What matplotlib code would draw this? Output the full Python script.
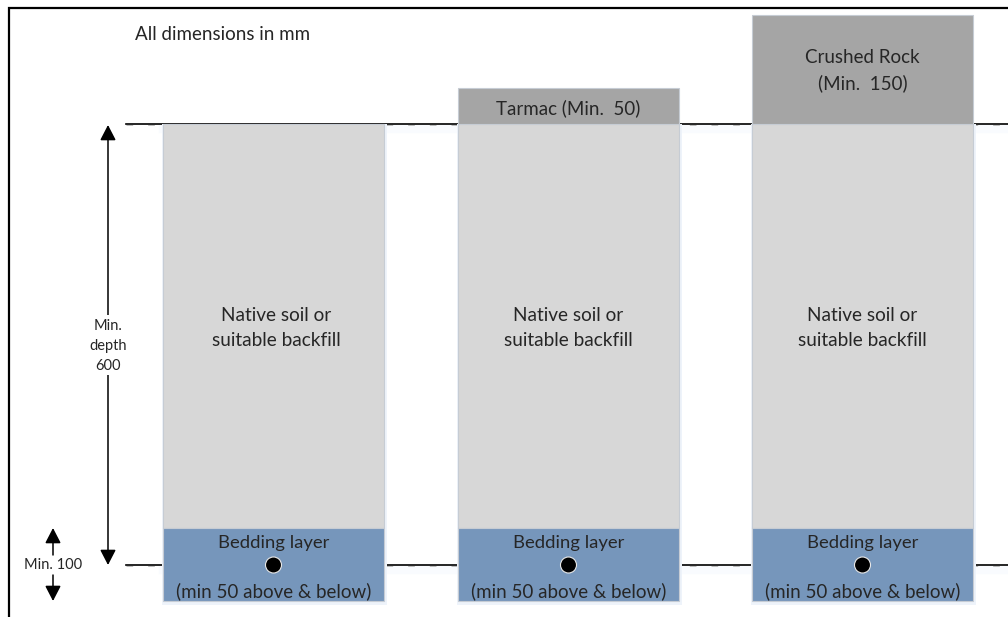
# trench cross sections, drawn in picture coordinates
import matplotlib
matplotlib.use('Agg')
import matplotlib.pyplot as plt
from matplotlib.patches import Rectangle, Circle

plt.rcParams['font.family'] = ['Lato', 'DejaVu Sans']

col_left = [163, 458, 752]
col_width = 221
soil_top = 124
bedding_top = 528
bedding_bottom = 601
surface_top = [None, 88, 15]
surface_labels = [None, 'Tarmac (Min.  50)', 'Crushed Rock\n(Min.  150)']
surface_label_y = [None, 108, 71]
soil_label = 'Native soil or\nsuitable backfill'
soil_label_dx = [3, 0, 0]
bedding_top_label = 'Bedding layer'
bedding_bottom_label = '(min 50 above & below)'
pipe_y = 565
pipe_r = 8

soil_col = '#d7d7d7'
rock_col = '#a5a5a5'
bed_col = '#7696bb'
edge_col = '#c6ccd4'
text_col = '#262626'

fig = plt.figure(figsize=(10.08, 6.17), dpi=100)
ax = fig.add_axes([0, 0, 1, 1])
ax.set_xlim(0, 1008)
ax.set_ylim(617, 0)
ax.axis('off')

# frame
ax.plot([9, 9, 1008], [617, 8, 8], color='black', lw=1.6, solid_joinstyle='miter')

# ground and pipe level lines, with the pale shadow and dash marks of the original
for y in [soil_top, pipe_y]:
    ax.plot([163, 1008], [y + 5, y + 5], color='#f9fbfe', lw=6, zorder=0.5)
    ax.plot([126, 1008], [y, y], color='black', lw=1.2, zorder=1)
    ax.plot([126, 1008], [y + 0.5, y + 0.5], color='#b0b0b0', lw=0.6, zorder=1.1,
            dashes=(8, 18))

for i, x in enumerate(col_left):
    cx = x + col_width / 2
    # faint shadow
    ax.add_patch(Rectangle((x - 1, soil_top), col_width + 4, bedding_bottom - soil_top + 4,
                           fc='#eef3fa', ec='none', zorder=1.5))
    ax.add_patch(Rectangle((x, soil_top), col_width, bedding_top - soil_top,
                           fc=soil_col, ec=edge_col, lw=0.8, zorder=2))
    ax.add_patch(Rectangle((x, bedding_top), col_width, bedding_bottom - bedding_top,
                           fc=bed_col, ec=edge_col, lw=0.8, zorder=2))
    ax.text(cx + soil_label_dx[i], 328, soil_label, ha='center', va='center', fontsize=13.7,
            color=text_col, linespacing=1.55, zorder=3)
    ax.text(cx, 543, bedding_top_label, ha='center', va='center', fontsize=13.3,
            color=text_col, zorder=3)
    ax.text(cx, 591, bedding_bottom_label, ha='center', va='center', fontsize=13.5,
            color=text_col, zorder=3)
    ax.add_patch(Circle((cx, pipe_y), pipe_r, fc='black', ec='#e8e8e8', lw=0.8, zorder=3))
    if surface_top[i] is not None:
        ax.add_patch(Rectangle((x, surface_top[i]), col_width, soil_top - surface_top[i],
                               fc=rock_col, ec=edge_col, lw=0.8, zorder=2))
        ax.text(cx, surface_label_y[i], surface_labels[i],
                ha='center', va='center', fontsize=13.5, color=text_col,
                linespacing=1.55, zorder=3)

ax.text(135, 34, 'All dimensions in mm', ha='left', va='center', fontsize=13.5, color=text_col)


def arrow(x, y0, y1):
    ax.annotate('', xy=(x, y1), xytext=(x, y0),
                arrowprops=dict(arrowstyle='-|>,head_width=0.3,head_length=0.58', color='black',
                                lw=1.1, shrinkA=0, shrinkB=0, mutation_scale=16))


arrow(108, 326, 125)
arrow(108, 326, 565)
ax.add_patch(Rectangle((85, 315), 46, 60, fc='white', ec='none', zorder=3.5))
ax.text(108, 346, 'Min.\ndepth\n600', ha='center', va='center', fontsize=10.5,
        color=text_col, linespacing=1.5, zorder=4)

arrow(53, 555, 528)
arrow(53, 575, 601)
ax.text(53, 565, 'Min. 100', ha='center', va='center', fontsize=10.5, color=text_col)

fig.savefig('out.png', dpi=100)
